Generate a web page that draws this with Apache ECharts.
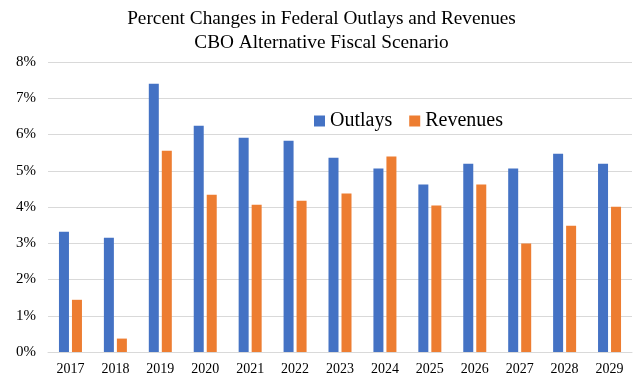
<!DOCTYPE html>
<html><head><meta charset="utf-8">
<script src="https://cdn.jsdelivr.net/npm/echarts@6/dist/echarts.min.js"></script>
<style>html,body{margin:0;padding:0;background:#fff}#c{width:643px;height:387px}</style>
</head><body><div id="c"></div>
<script>
const categories = ['2017','2018','2019','2020','2021','2022','2023','2024','2025','2026','2027','2028','2029'];
const outlays = [3.32,3.15,7.40,6.24,5.91,5.83,5.36,5.06,4.62,5.19,5.06,5.47,5.19];
const revenues = [1.44,0.37,5.55,4.34,4.06,4.17,4.37,5.39,4.04,4.62,2.99,3.48,4.01];
const yTicks = [0,1,2,3,4,5,6,7,8];
const serif = 'Liberation Serif';
const chart = echarts.init(document.getElementById('c'));
chart.setOption({
  animation:false,
  title:{text:'Percent Changes in Federal Outlays and Revenues\nCBO Alternative Fiscal Scenario',left:'center',top:2,
    textStyle:{fontFamily:serif,fontSize:19.3,fontWeight:'normal',color:'#000',lineHeight:24}},
  legend:{data:['Outlays','Revenues'],left:309,top:106,itemWidth:11,itemHeight:11,itemGap:17,icon:'rect',
    textStyle:{fontFamily:serif,fontSize:20,color:'#000'}},
  grid:{left:48,right:11,top:62,bottom:35},
  xAxis:{type:'category',data:categories,axisTick:{show:false},
    axisLine:{lineStyle:{color:'#d9d9d9'}},
    axisLabel:{fontFamily:serif,fontSize:14,color:'#000',margin:10}},
  yAxis:{type:'value',min:yTicks[0],max:yTicks[yTicks.length-1],interval:1,
    axisLine:{show:false},axisTick:{show:false},
    splitLine:{lineStyle:{color:'#d9d9d9'}},
    axisLabel:{fontFamily:serif,fontSize:15,color:'#000',margin:12,formatter:v=>v+'%'}},
  series:[
    {name:'Outlays',type:'bar',data:outlays,barWidth:10,barGap:'30%',itemStyle:{color:'#4472C4'}},
    {name:'Revenues',type:'bar',data:revenues,barWidth:10,itemStyle:{color:'#ED7D31'}}
  ]
});
</script></body></html>
